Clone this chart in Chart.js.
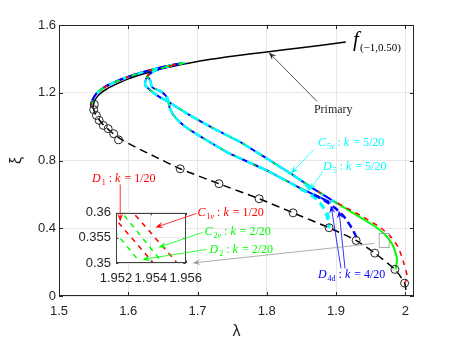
<!DOCTYPE html>
<html>
<head>
<meta charset="utf-8">
<script src="https://cdn.jsdelivr.net/npm/chart.js@4.4.1/dist/chart.umd.min.js"></script>
<style>
  html, body { margin: 0; padding: 0; background: #fff; }
  #wrap { position: relative; width: 457px; height: 343px; }
  #wrap canvas { position: absolute; }
  #notes { pointer-events: none; }
</style>
</head>
<body>
<div id="wrap">
  <canvas id="main" width="457" height="343" style="left:0;top:0"></canvas>
  <canvas id="inset" width="140" height="90" style="left:70px;top:200px"></canvas>
  <canvas id="notes" width="457" height="343" style="left:0;top:0"></canvas>
</div>
<script>
// ---- axis ticks ----
const xTicks = [1.5, 1.6, 1.7, 1.8, 1.9, 2.0]
const yTicks = [0, 0.4, 0.8, 1.2, 1.6]
const insetXTicks = [1.952, 1.954, 1.956]
const insetYTicks = [0.35, 0.355, 0.36]

// ---- primary branch f(-1,0.50) ----
const priUpLam = [1.549, 1.551, 1.558, 1.570, 1.585, 1.600, 1.625, 1.650, 1.700, 1.750, 1.800, 1.850, 1.914]
const priUpXi  = [1.115, 1.150, 1.190, 1.225, 1.255, 1.282, 1.315, 1.343, 1.385, 1.415, 1.441, 1.466, 1.499]
const priLoLam = [1.549, 1.553, 1.562, 1.575, 1.590, 1.610, 1.640, 1.675, 1.731, 1.789, 1.838, 1.890, 1.929, 1.956, 1.985, 1.999, 2.002]
const priLoXi  = [1.115, 1.070, 1.020, 0.970, 0.925, 0.880, 0.820, 0.751, 0.663, 0.574, 0.491, 0.403, 0.328, 0.253, 0.157, 0.076, 0.000]

// bifurcation points on the primary branch
const bifLam = [1.551, 1.550, 1.554, 1.558, 1.564, 1.571, 1.579, 1.586, 1.675, 1.731, 1.789, 1.838, 1.890, 1.929, 1.956, 1.985, 1.999]
const bifXi  = [1.131, 1.100, 1.066, 1.037, 1.007, 0.988, 0.958, 0.922, 0.751, 0.663, 0.574, 0.491, 0.403, 0.328, 0.253, 0.157, 0.076]

// ---- secondary branches ----
// rise from the nose to the fold and back
const riseLam = [1.546, 1.548, 1.554, 1.565, 1.580, 1.597, 1.622, 1.650, 1.680, 1.665, 1.648, 1.636, 1.628]
const riseXi  = [1.120, 1.155, 1.195, 1.232, 1.262, 1.290, 1.322, 1.352, 1.376, 1.362, 1.345, 1.325, 1.300]
// upper (outer) descending strand
const uLam = [1.6246, 1.6246, 1.6294, 1.642, 1.6584, 1.690, 1.725, 1.762, 1.806, 1.8348, 1.8638, 1.9024]
const uXi  = [1.265, 1.243, 1.224, 1.183, 1.1447, 1.065, 0.985, 0.9085, 0.796, 0.722, 0.643, 0.545]
// lower (inner) descending strand
const lLam = [1.6319, 1.6343, 1.6488, 1.657, 1.660, 1.665, 1.675, 1.690, 1.714, 1.743, 1.762, 1.806, 1.849, 1.893]
const lXi  = [1.273, 1.233, 1.204, 1.165, 1.110, 1.070, 1.025, 0.978, 0.918, 0.848, 0.812, 0.729, 0.635, 0.552]
// branch ends
const redEndLam = [1.9024, 1.937, 1.962, 1.978, 1.990, 1.998, 2.003, 1.999]
const redEndXi  = [0.548, 0.472, 0.410, 0.355, 0.286, 0.192, 0.110, 0.076]
const greenEndLam = [1.9024, 1.932, 1.955, 1.970, 1.982, 1.988, 1.986]
const greenEndXi  = [0.545, 0.472, 0.415, 0.365, 0.300, 0.220, 0.157]
const d4dLam = [1.868, 1.885, 1.900, 1.912, 1.922, 1.929, 1.929]
const d4dXi  = [0.598, 0.560, 0.515, 0.466, 0.406, 0.350, 0.328]
const c5EndLam = [1.852, 1.868, 1.880, 1.887, 1.890]
const c5EndXi  = [0.675, 0.600, 0.530, 0.465, 0.403]
const d5Lam = [1.844, 1.864, 1.878, 1.888, 1.890, 1.890]
const d5Xi  = [0.643, 0.594, 0.546, 0.487, 0.428, 0.403]

// ---- inset (zoom near lambda = 1.954) ----
const r1Lam = [1.95274, 1.95576], r1Xi = [0.361, 0.349]
const r2Lam = [1.95140, 1.95439], r2Xi = [0.361, 0.349]
const g1Lam = [1.95212, 1.95491], g1Xi = [0.361, 0.349]
const g2Lam = [1.95080, 1.95365], g2Xi = [0.361, 0.349]

const BLUE = '#0000ff', CYAN = '#00ffff', GREEN = '#00ff00', RED = '#ff0000'
const AXIS = '#262626', GRID = '#e6e6e6'
const SANS = '"Liberation Sans", Arial, Helvetica, sans-serif'
const SERIF = '"Liberation Serif", "Times New Roman", serif'

function pts(...segs) {
  const out = []
  for (const [lam, xi] of segs) lam.forEach((v, i) => out.push({ x: v, y: xi[i] }))
  return out
}
function upTo(lam, xi, maxLam) {
  const keep = lam.map((v, i) => i).filter(i => lam[i] <= maxLam)
  return [keep.map(i => lam[i]), keep.map(i => xi[i])]
}
function line(data, color, width, dash, order) {
  return { data, showLine: true, borderColor: color, borderWidth: width, borderDash: dash,
    pointRadius: 0, tension: 0.2, fill: false, order }
}

// box + inward ticks, MATLAB style
const boxPlugin = {
  id: 'box',
  beforeDraw(chart, args, opts) {
    if (!opts.white) return
    const a = chart.chartArea, ctx = chart.ctx
    ctx.save(); ctx.fillStyle = '#fff'
    ctx.fillRect(a.left, a.top, a.right - a.left, a.bottom - a.top); ctx.restore()
  },
  afterDatasetsDraw(chart, args, opts) {
    const a = chart.chartArea, ctx = chart.ctx, t = opts.tick || 3.5
    ctx.save()
    ctx.strokeStyle = opts.color || AXIS; ctx.lineWidth = 1
    ctx.strokeRect(Math.round(a.left) + 0.5, Math.round(a.top) + 0.5,
      Math.round(a.right - a.left) - 1, Math.round(a.bottom - a.top) - 1)
    ctx.beginPath()
    chart.scales.x.ticks.forEach(tk => {
      const px = Math.round(chart.scales.x.getPixelForValue(tk.value)) + 0.5
      ctx.moveTo(px, a.bottom); ctx.lineTo(px, a.bottom - t)
      ctx.moveTo(px, a.top); ctx.lineTo(px, a.top + t)
    })
    chart.scales.y.ticks.forEach(tk => {
      const py = Math.round(chart.scales.y.getPixelForValue(tk.value)) + 0.5
      ctx.moveTo(a.left, py); ctx.lineTo(a.left + t, py)
      ctx.moveTo(a.right, py); ctx.lineTo(a.right - t, py)
    })
    ctx.stroke(); ctx.restore()
  }
}

// ---- annotations (text in data coordinates of the main axes) ----
const notes = [
  { color: AXIS, at: [1.8681, 1.078], parts: [{ t: 'Primary', s: 12 }],
    arrows: [[1.8725, 1.149, 1.8029, 1.4383]] },
  { color: '#000', at: [1.9246, 1.4737], parts: [{ t: 'f', it: 1, s: 21 }, { t: '(\u22121,0.50)', s: 11, dy: 5 }], arrows: [] },
  { color: CYAN, at: [1.8739, 0.8831], parts: [{ t: 'C', it: 1 }, { t: '5', s: 8, dy: 3 }, { t: 'v', it: 1, s: 8, dy: 3 }, { t: ' : ' }, { t: 'k', it: 1 }, { t: ' = 5/20' }],
    arrows: [[1.8681, 0.8653, 1.8348, 0.7236]] },
  { color: CYAN, at: [1.8812, 0.7413], parts: [{ t: 'D', it: 1 }, { t: '5', s: 8, dy: 3 }, { t: ' : ' }, { t: 'k', it: 1 }, { t: ' = 5/20' }],
    arrows: [[1.8812, 0.7354, 1.8609, 0.6232]] },
  { color: BLUE, at: [1.8739, 0.1034], parts: [{ t: 'D', it: 1 }, { t: '4d', s: 8, dy: 3 }, { t: ' : ' }, { t: 'k', it: 1 }, { t: ' = 4/20' }],
    arrows: [[1.9072, 0.1625, 1.8928, 0.5346], [1.9130, 0.1625, 1.9043, 0.5050]] },
  { color: RED, at: [1.5478, 0.6704], parts: [{ t: 'D', it: 1 }, { t: '1', s: 8, dy: 3 }, { t: ' : ' }, { t: 'k', it: 1 }, { t: ' = 1/20' }],
    arrows: [[1.5884, 0.6586, 1.5884, 0.4400]] },
  { color: RED, at: [1.7000, 0.4696], parts: [{ t: 'C', it: 1 }, { t: '1', s: 8, dy: 3 }, { t: 'v', it: 1, s: 8, dy: 3 }, { t: ' : ' }, { t: 'k', it: 1 }, { t: ' = 1/20' }],
    arrows: [[1.6986, 0.4873, 1.6391, 0.4046]] },
  { color: GREEN, at: [1.7101, 0.3574], parts: [{ t: 'C', it: 1 }, { t: '2', s: 8, dy: 3 }, { t: 'v', it: 1, s: 8, dy: 3 }, { t: ' : ' }, { t: 'k', it: 1 }, { t: ' = 2/20' }],
    arrows: [[1.7072, 0.3751, 1.6435, 0.2865]] },
  { color: GREEN, at: [1.7174, 0.2510], parts: [{ t: 'D', it: 1 }, { t: '2', s: 8, dy: 3 }, { t: ' : ' }, { t: 'k', it: 1 }, { t: ' = 2/20' }],
    arrows: [[1.7130, 0.2747, 1.6203, 0.2156]] },
  { color: '#999999', at: null, parts: [], arrows: [[1.9551, 0.3101, 1.6928, 0.1949]], rect: [1.9623, 0.3692, 1.9768, 0.2865] }
]

function arrow(ctx, x1, y1, x2, y2, color) {
  const a = Math.atan2(y2 - y1, x2 - x1), L = 8, W = 3
  const c = Math.cos(a), s = Math.sin(a)
  ctx.strokeStyle = color; ctx.fillStyle = color; ctx.lineWidth = 0.8
  ctx.beginPath(); ctx.moveTo(x1, y1); ctx.lineTo(x2 - 0.6 * L * c, y2 - 0.6 * L * s); ctx.stroke()
  ctx.beginPath()
  ctx.moveTo(x2, y2)
  ctx.lineTo(x2 - L * c + W * s, y2 - L * s - W * c)
  ctx.lineTo(x2 - 0.6 * L * c, y2 - 0.6 * L * s)
  ctx.lineTo(x2 - L * c - W * s, y2 - L * s + W * c)
  ctx.closePath(); ctx.fill()
}

const notesPlugin = {
  id: 'notes',
  afterDraw(chart) {
    const ctx = document.getElementById('notes').getContext('2d')
    const X = v => chart.scales.x.getPixelForValue(v)
    const Y = v => chart.scales.y.getPixelForValue(v)
    ctx.clearRect(0, 0, 457, 343)
    for (const n of notes) {
      n.arrows.forEach(a => arrow(ctx, X(a[0]), Y(a[1]), X(a[2]), Y(a[3]), n.color))
      if (n.rect) {
        ctx.strokeStyle = n.color; ctx.lineWidth = 0.8
        ctx.strokeRect(X(n.rect[0]), Y(n.rect[1]), X(n.rect[2]) - X(n.rect[0]), Y(n.rect[3]) - Y(n.rect[1]))
      }
      if (!n.at) continue
      let cx = X(n.at[0])
      const by = Y(n.at[1])
      ctx.fillStyle = n.color; ctx.textBaseline = 'alphabetic'
      for (const p of n.parts) {
        ctx.font = (p.it ? 'italic ' : '') + (p.s || 12) + 'px ' + SERIF
        ctx.fillText(p.t, cx, by + (p.dy || 0))
        cx += ctx.measureText(p.t).width + (p.it && !p.dy ? 1 : 0)
      }
    }
  }
}

const tickFont = { family: SANS, size: 13 }
const fmt = v => String(+v.toFixed(3))
const riseU = [[riseLam, riseXi], [uLam, uXi]]
const riseL = [[riseLam, riseXi], [lLam, lXi]]

new Chart(document.getElementById('main'), {
  type: 'scatter',
  data: {
    datasets: [
      line(pts([priUpLam, priUpXi]), '#000', 1.5, [], 9),
      line(pts([priLoLam, priLoXi]), '#000', 1.5, [8, 5], 9),
      // the overlapping strands of every branch pair
      line(pts(...riseU), BLUE, 2, [], 8),
      line(pts(...riseL), BLUE, 2, [], 8),
      line(pts(...riseU), CYAN, 2, [6, 9], 7),
      line(pts(...riseL), CYAN, 2, [6, 9], 7),
      line(pts(...riseU), GREEN, 1.5, [5, 13], 6),
      line(pts(...riseL), GREEN, 1.5, [5, 13], 6),
      line(pts(...riseU), RED, 1.5, [3, 21], 5),
      line(pts(...riseL), RED, 1.5, [3, 21], 5),
      // branch ends
      line(pts(upTo(uLam, uXi, 1.84), [c5EndLam, c5EndXi]), CYAN, 2.5, [7, 5], 4),
      line(pts(upTo(lLam, lXi, 1.81), [d5Lam, d5Xi]), CYAN, 2.5, [7, 5], 4),
      line(pts([greenEndLam, greenEndXi]), GREEN, 2, [], 3),
      line(pts([redEndLam, redEndXi]), RED, 1.5, [5, 5], 2),
      line(pts([d4dLam, d4dXi]), BLUE, 2.5, [7, 4], 2),
      { data: pts([bifLam, bifXi]), showLine: false, pointRadius: 4, pointBorderWidth: 1,
        pointBorderColor: AXIS, pointBackgroundColor: 'rgba(0,0,0,0)', order: 1 }
    ]
  },
  options: {
    responsive: false,
    animation: false,
    layout: { padding: { top: 25, right: 43, left: 0, bottom: 0 } },
    plugins: { legend: { display: false }, tooltip: { enabled: false }, box: { tick: 4 } },
    scales: {
      x: {
        type: 'linear', min: 1.5, max: 2.0126,
        afterBuildTicks: s => { s.ticks = xTicks.map(v => ({ value: v })) },
        afterFit: s => { s.height = 47 },
        ticks: { font: tickFont, color: AXIS, padding: 8, callback: fmt, maxRotation: 0 },
        grid: { color: GRID, drawTicks: false },
        border: { display: false },
        title: { display: true, text: '\u03bb', font: { family: SANS, size: 16 }, color: AXIS, padding: { top: 0, bottom: 2 } }
      },
      y: {
        min: 0, max: 1.6,
        afterBuildTicks: s => { s.ticks = yTicks.map(v => ({ value: v })) },
        afterFit: s => { s.width = 59 },
        ticks: { font: tickFont, color: AXIS, padding: 3, callback: fmt },
        grid: { color: GRID, drawTicks: false },
        border: { display: false },
        title: { display: true, text: '\u03be', font: { family: SANS, size: 16 }, color: AXIS, padding: { top: 7, bottom: 0 } }
      }
    }
  },
  plugins: [boxPlugin, notesPlugin]
})

new Chart(document.getElementById('inset'), {
  type: 'scatter',
  data: {
    datasets: [
      line(pts([r1Lam, r1Xi]), RED, 1.5, [5, 5], 1),
      line(pts([r2Lam, r2Xi]), RED, 1.5, [5, 5], 1),
      line(pts([g1Lam, g1Xi]), GREEN, 1.5, [5, 5], 2),
      line(pts([g2Lam, g2Xi]), GREEN, 1.5, [5, 5], 2)
    ]
  },
  options: {
    responsive: false,
    animation: false,
    layout: { padding: { top: 7, right: 21, left: 0, bottom: 2 } },
    plugins: { legend: { display: false }, tooltip: { enabled: false }, box: { white: true, tick: 2.5, color: '#404040' } },
    scales: {
      x: {
        type: 'linear', min: 1.952, max: 1.956,
        afterBuildTicks: s => { s.ticks = insetXTicks.map(v => ({ value: v })) },
        afterFit: s => { s.height = 25 },
        ticks: { font: tickFont, color: AXIS, padding: 8, callback: fmt, maxRotation: 0 },
        grid: { color: GRID, drawTicks: false },
        border: { display: false }
      },
      y: {
        min: 0.35, max: 0.36,
        afterBuildTicks: s => { s.ticks = insetYTicks.map(v => ({ value: v })) },
        afterFit: s => { s.width = 46 },
        ticks: { font: tickFont, color: AXIS, padding: 5, callback: fmt },
        grid: { color: GRID, drawTicks: false },
        border: { display: false }
      }
    }
  },
  plugins: [boxPlugin]
})
</script>
</body>
</html>
